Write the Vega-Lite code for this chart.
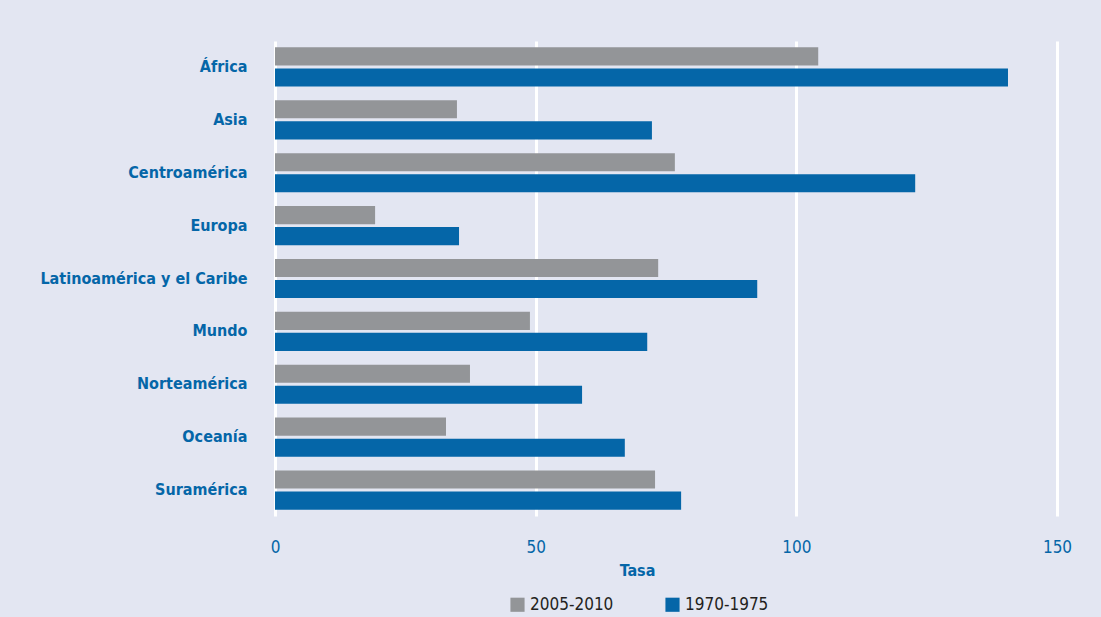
{
  "$schema": "https://vega.github.io/schema/vega-lite/v6.json",
  "width": 782,
  "height": 475,
  "autosize": "none",
  "padding": {"left": 275, "top": 41, "right": 44, "bottom": 101},
  "background": "#e3e6f2",
  "config": {
    "view": {"stroke": null},
    "font": "DejaVu Sans Condensed"
  },
  "data": {
    "values": [
      {"region": "África", "periodo": "2005-2010", "tasa": 104.2},
      {"region": "África", "periodo": "1970-1975", "tasa": 140.6},
      {"region": "Asia", "periodo": "2005-2010", "tasa": 34.9},
      {"region": "Asia", "periodo": "1970-1975", "tasa": 72.3},
      {"region": "Centroamérica", "periodo": "2005-2010", "tasa": 76.7},
      {"region": "Centroamérica", "periodo": "1970-1975", "tasa": 122.8},
      {"region": "Europa", "periodo": "2005-2010", "tasa": 19.2},
      {"region": "Europa", "periodo": "1970-1975", "tasa": 35.3},
      {"region": "Latinoamérica y el Caribe", "periodo": "2005-2010", "tasa": 73.5},
      {"region": "Latinoamérica y el Caribe", "periodo": "1970-1975", "tasa": 92.5},
      {"region": "Mundo", "periodo": "2005-2010", "tasa": 48.9},
      {"region": "Mundo", "periodo": "1970-1975", "tasa": 71.4},
      {"region": "Norteamérica", "periodo": "2005-2010", "tasa": 37.4},
      {"region": "Norteamérica", "periodo": "1970-1975", "tasa": 58.9},
      {"region": "Oceanía", "periodo": "2005-2010", "tasa": 32.8},
      {"region": "Oceanía", "periodo": "1970-1975", "tasa": 67.1},
      {"region": "Suramérica", "periodo": "2005-2010", "tasa": 72.9},
      {"region": "Suramérica", "periodo": "1970-1975", "tasa": 77.9}
    ]
  },
  "mark": {"type": "bar"},
  "encoding": {
    "y": {
      "field": "region",
      "type": "nominal",
      "sort": ["África", "Asia", "Centroamérica", "Europa", "Latinoamérica y el Caribe", "Mundo", "Norteamérica", "Oceanía", "Suramérica"],
      "scale": {"paddingInner": 0.26, "paddingOuter": 0.12},
      "axis": {
        "title": null,
        "domain": false,
        "ticks": false,
        "labelPadding": 28,
        "labelFontSize": 16,
        "labelFontWeight": "bold",
        "labelColor": "#0566a8",
        "labelFont": "DejaVu Sans Condensed",
        "labelLimit": 400
      }
    },
    "yOffset": {
      "field": "periodo",
      "type": "nominal",
      "sort": ["2005-2010", "1970-1975"],
      "scale": {"paddingInner": 0.14}
    },
    "x": {
      "field": "tasa",
      "type": "quantitative",
      "scale": {"domain": [0, 150], "nice": false},
      "axis": {
        "title": "Tasa",
        "values": [0, 50, 100, 150],
        "domain": false,
        "ticks": false,
        "grid": true,
        "gridColor": "#ffffff",
        "gridWidth": 3,
        "gridOpacity": 1,
        "labelPadding": 23,
        "labelFlush": false,
        "labelFontSize": 17,
        "labelColor": "#0566a8",
        "labelFont": "DejaVu Sans Condensed",
        "titleFontSize": 16,
        "titleFontWeight": "bold",
        "titleColor": "#0566a8",
        "titleFont": "DejaVu Sans Condensed",
        "titleAnchor": "start",
        "titleAlign": "center",
        "titleX": 362,
        "titleY": 46,
        "titleBaseline": "top"
      }
    },
    "color": {
      "field": "periodo",
      "type": "nominal",
      "sort": ["2005-2010", "1970-1975"],
      "scale": {"domain": ["2005-2010", "1970-1975"], "range": ["#939598", "#0566a8"]},
      "legend": {
        "title": null,
        "orient": "none",
        "direction": "horizontal",
        "legendX": 234,
        "legendY": 555,
        "symbolType": "square",
        "symbolSize": 200,
        "symbolStrokeWidth": 0,
        "labelFontSize": 17,
        "labelColor": "#231f20",
        "labelFont": "DejaVu Sans Condensed",
        "columnPadding": 50
      }
    }
  }
}
